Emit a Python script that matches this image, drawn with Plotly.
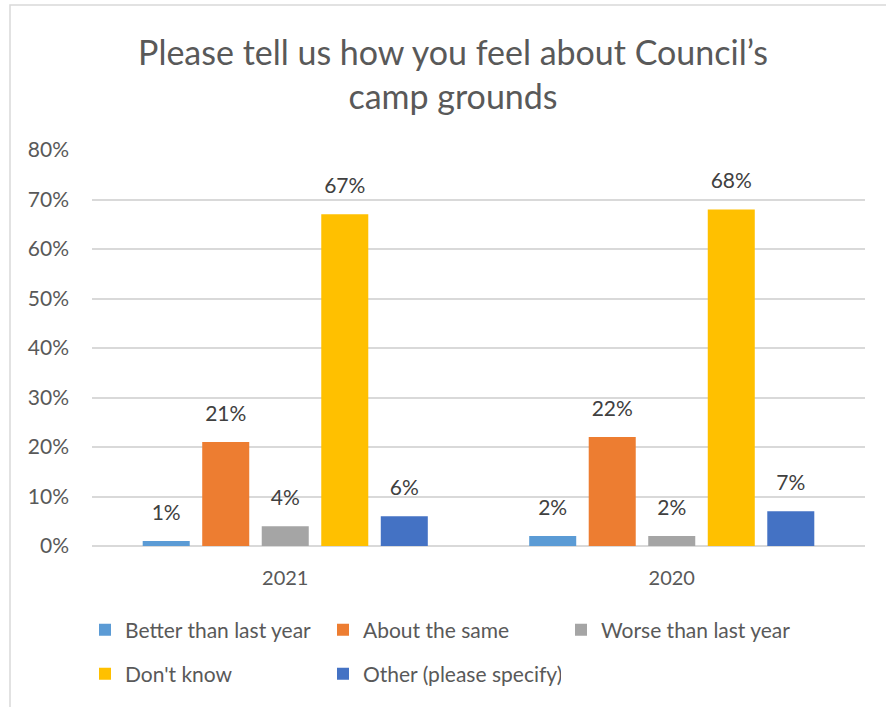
import plotly.graph_objects as go

# Survey results: share of respondents per answer, by year
years = ["2021", "2020"]
series_names = [
    "Better than last year",
    "About the same",
    "Worse than last year",
    "Don't know",
    "Other (please specify)",
]
better = [1, 2]
same = [21, 22]
worse = [4, 2]
dont_know = [67, 68]
other = [6, 7]
y_ticks = [0, 10, 20, 30, 40, 50, 60, 70, 80]

values = [better, same, worse, dont_know, other]
colors = ["#5B9BD5", "#ED7D31", "#A5A5A5", "#FFC000", "#4472C4"]
legend_ids = ["legend", "legend", "legend", "legend2", "legend2"]

FONT = "Lato, 'Open Sans', sans-serif"

fig = go.Figure()
for i, (name, vals, col, lg) in enumerate(zip(series_names, values, colors, legend_ids)):
    fig.add_trace(go.Bar(
        name=name,
        x=years,
        y=vals,
        offsetgroup=str(i),
        marker=dict(color=col, line=dict(width=0)),
        legend=lg,
    ))
    # value labels, sitting above each bar
    fig.add_trace(go.Scatter(
        x=years,
        y=vals,
        offsetgroup=str(i),
        mode="markers+text",
        marker=dict(size=24, opacity=0),
        text=[f"{v}%" for v in vals],
        textposition="top center",
        textfont=dict(size=21, color="#404040", family=FONT),
        cliponaxis=False,
        showlegend=False,
        hoverinfo="skip",
    ))

W, H = 886, 707
L, R, T, B = 92, 21, 150, 161
pw, ph = W - L - R, H - T - B


def px_x(p):
    return (p - L) / pw


def px_y(p):
    return (H - B - p) / ph


legend_common = dict(
    orientation="h",
    xanchor="left",
    yanchor="middle",
    font=dict(size=21, color="#595959", family=FONT),
    entrywidthmode="pixels",
    entrywidth=193,
    itemwidth=30,
    bgcolor="rgba(0,0,0,0)",
    traceorder="normal",
)

fig.update_layout(
    width=W,
    height=H,
    margin=dict(l=L, r=R, t=T, b=B),
    paper_bgcolor="white",
    plot_bgcolor="white",
    font=dict(family=FONT, color="#595959"),
    title=dict(
        text="Please tell us how you feel about Council’s<br>camp grounds",
        x=px_x(453),
        xref="paper",
        xanchor="center",
        y=1 - 65 / H,
        yanchor="middle",
        font=dict(size=34, color="#595959", family=FONT),
    ),
    barmode="group",
    scattermode="group",
    bargap=0.23,
    bargroupgap=0.21,
    scattergap=0.23,
    xaxis=dict(
        showgrid=False,
        showline=False,
        ticks="",
        ticklabelstandoff=18,
        tickfont=dict(size=20, color="#595959", family=FONT),
    ),
    yaxis=dict(
        range=[0, 80],
        tickvals=y_ticks,
        ticktext=[f"{t}%" for t in y_ticks],
        showgrid=True,
        gridcolor="#D9D9D9",
        gridwidth=1.5,
        zeroline=True,
        zerolinecolor="#D9D9D9",
        zerolinewidth=1.5,
        showline=False,
        ticks="",
        ticklabelstandoff=22,
        tickfont=dict(size=21, color="#595959", family=FONT),
    ),
    legend=dict(legend_common, x=px_x(85), y=px_y(630)),
    legend2=dict(legend_common, x=px_x(85), y=px_y(674)),
    shapes=[
        dict(
            type="rect",
            xref="paper",
            yref="paper",
            x0=px_x(10),
            x1=px_x(W + 20),
            y0=px_y(H + 20),
            y1=px_y(5),
            line=dict(color="#D9D9D9", width=1.5),
            fillcolor="rgba(0,0,0,0)",
            layer="below",
        )
    ],
)

fig.write_html("out.html")
